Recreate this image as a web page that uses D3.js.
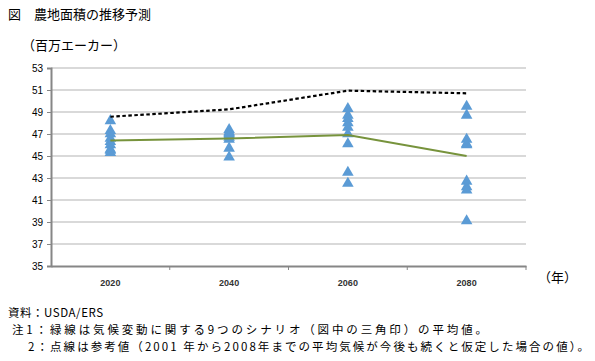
<!DOCTYPE html>
<html>
<head>
<meta charset="utf-8">
<script src="https://cdn.jsdelivr.net/npm/d3@7"></script>
<style>
  body { margin: 0; background: #fff; }
  text { font-family: "Noto Sans CJK JP", sans-serif; }
  .num { font-family: "Liberation Sans", Arial, sans-serif; }
</style>
</head>
<body>
<svg id="chart" width="595" height="361"></svg>
<script>
const years = ['2020', '2040', '2060', '2080'];
const yTicks = [35, 37, 39, 41, 43, 45, 47, 49, 51, 53];
// 9 scenarios per year (triangles)
const scenarios = [
  [48.2, 47.3, 47.0, 46.6, 46.3, 46.0, 45.6, 45.5, 45.3],
  [47.4, 47.2, 47.1, 47.0, 46.9, 46.7, 46.5, 45.7, 44.9],
  [49.3, 48.7, 48.4, 48.0, 47.6, 47.0, 46.1, 43.5, 42.5],
  [49.5, 48.7, 46.5, 46.1, 46.0, 42.7, 42.2, 41.9, 39.1]
];
const meanLine = [46.42, 46.6, 46.9, 45.0];
const refLine = [48.57, 49.24, 50.94, 50.7];
const notes = [
  '資料：USDA/ERS',
  '注1：緑線は気候変動に関する9つのシナリオ（図中の三角印）の平均値。',
  '2：点線は参考値（2001 年から2008年までの平均気候が今後も続くと仮定した場合の値）。'
];

const svg = d3.select('#chart');
const plotL = 51, plotR = 526, plotT = 68, plotB = 266;

const x = d3.scaleBand().domain(years).range([plotL, plotR]);
const y = d3.scaleLinear().domain([35, 53]).range([plotB, plotT]);

// title
svg.append('text').attr('x', 8).attr('y', 19).attr('font-size', 13).text('図　農地面積の推移予測');
svg.append('text').attr('x', 22).attr('y', 50).attr('font-size', 13).text('（百万エーカー）');

// gridlines
svg.append('g').selectAll('line').data(yTicks.filter(d => d > 35)).join('line')
  .attr('x1', plotL).attr('x2', plotR)
  .attr('y1', d => y(d)).attr('y2', d => y(d))
  .attr('stroke', '#d9d9d9').attr('stroke-width', 2);

// y axis
const yAxis = svg.append('g').attr('transform', `translate(${plotL},0)`)
  .call(d3.axisLeft(y).tickValues(yTicks).tickSize(4).tickPadding(4));
yAxis.select('.domain').attr('stroke', '#868686').attr('stroke-width', 2);
yAxis.selectAll('.tick line').attr('stroke', '#868686');
yAxis.selectAll('.tick text').attr('class', 'num').attr('font-size', 10).attr('fill', '#000');

// x axis
const xAxis = svg.append('g').attr('transform', `translate(0,${plotB})`)
  .call(d3.axisBottom(x).tickSize(0).tickPadding(14));
xAxis.select('.domain').attr('stroke', '#868686').attr('stroke-width', 2);
xAxis.selectAll('.tick text').attr('class', 'num').attr('font-size', 9).attr('font-weight', 'bold').attr('fill', '#333');
// tick marks at band boundaries
svg.append('g').selectAll('line').data(years.slice(1).concat(['end'])).join('line')
  .attr('x1', d => d === 'end' ? plotR : x(d)).attr('x2', d => d === 'end' ? plotR : x(d))
  .attr('y1', plotB).attr('y2', plotB + 4)
  .attr('stroke', '#868686');
svg.append('text').attr('x', 538).attr('y', 282).attr('font-size', 13).text('（年）');

const cx = d => x(d) + x.bandwidth() / 2;

// triangles
const tri = d3.symbol().type(d3.symbolTriangle).size(58);
years.forEach((yr, i) => {
  svg.append('g').selectAll('path').data(scenarios[i]).join('path')
    .attr('d', tri)
    .attr('transform', d => `translate(${cx(yr)},${y(d)})`)
    .attr('fill', '#5b9bd5');
});

// mean line (green)
const line = d3.line().x((d, i) => cx(years[i])).y(d => y(d));
svg.append('path').datum(meanLine).attr('d', line)
  .attr('fill', 'none').attr('stroke', '#77933c').attr('stroke-width', 2);

// reference line (dotted)
svg.append('path').datum(refLine).attr('d', line)
  .attr('fill', 'none').attr('stroke', '#000').attr('stroke-width', 2.2)
  .attr('stroke-dasharray', '3.5,2.5');

// notes
const noteX = [8, 12, 28];
const noteW = [95, 475, 561];
svg.append('g').selectAll('text').data(notes).join('text')
  .attr('x', (d, i) => noteX[i]).attr('y', (d, i) => 317 + i * 17)
  .attr('font-size', 11.5)
  .attr('textLength', (d, i) => noteW[i]).attr('lengthAdjust', 'spacing')
  .text(d => d);
</script>
</body>
</html>
